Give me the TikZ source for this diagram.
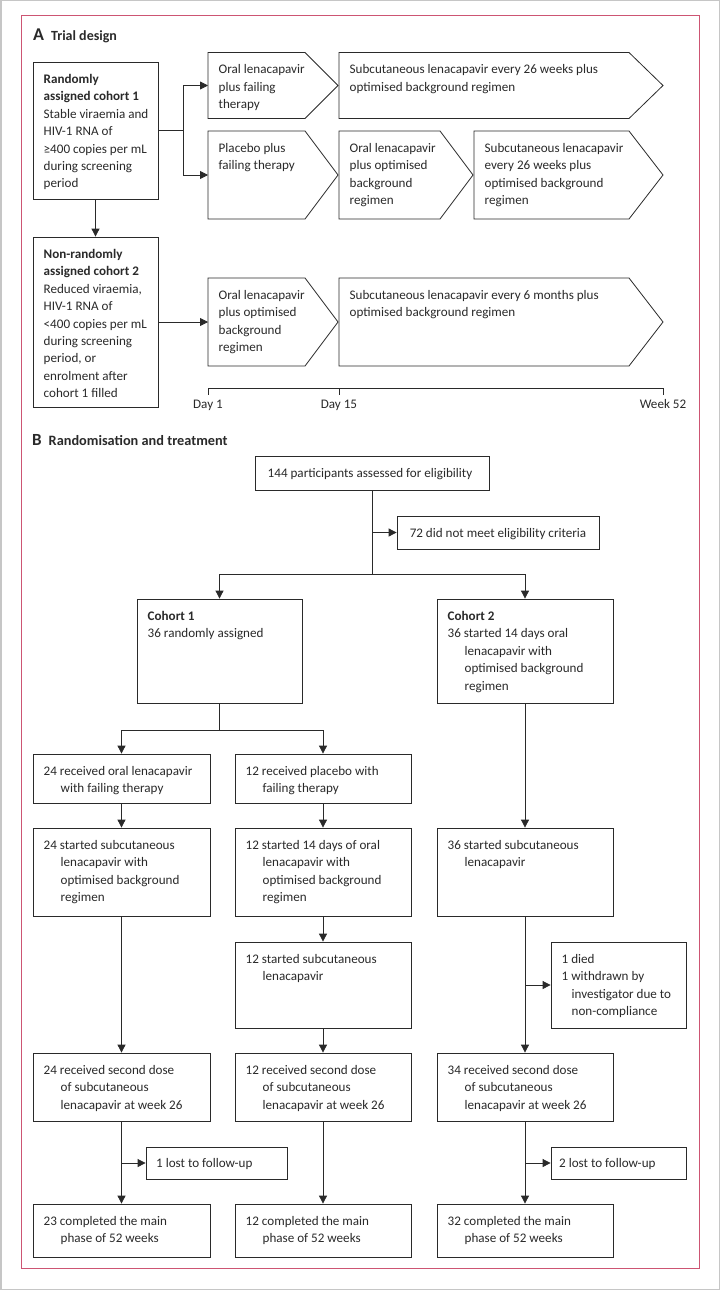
\documentclass[tikz,border=0pt]{standalone}
\usepackage{fontspec}
\setmainfont{Carlito}
\usetikzlibrary{arrows.meta,fit}
\definecolor{ink}{HTML}{2A2A2A}
\definecolor{framec}{RGB}{205,85,115}
\newcommand\tl[1]{\begin{tabular}[t]{@{}l@{}}#1\end{tabular}}
\newcommand\ind{\hspace*{17pt}}
\newcommand\bbox[6]{%
  \node[bx, fit={(#2,#3) (#4,#5)}] (#1) {};
  \node[txt] (#1t) at (#2+10.5,#3+21.5) {\tl{#6}};
}
\newcommand\pent[7]{%
  \draw[bxl] (#2,#3) -- (#4,#3) -- (#5,{(#3+#6)/2}) -- (#4,#6) -- (#2,#6) -- cycle;
  \coordinate (#1) at (#2,{(#3+#6)/2});
  \node[txt] (#1t) at (#2+10.5,#3+21.5) {\tl{#7}};
}
\begin{document}
\begin{tikzpicture}[x=1pt,y=-1pt,
  bx/.style={draw=ink, line width=0.8pt, inner sep=0pt},
  bxl/.style={draw=ink, line width=0.8pt, line join=miter},
  txt/.style={anchor=base west, inner sep=0pt, text=ink, font=\fontsize{13.1}{17.4}\selectfont},
  ln/.style={draw=ink, line width=0.8pt},
  arr/.style={ln, -{Triangle[length=8pt,width=8pt]}}]
\useasboundingbox (0,0) rectangle (720,1290);
\fill[white] (0,0) rectangle (720,1290);
\draw[gray!45, line width=1.5pt] (0.75,0.75) rectangle (719.25,1289.25);
\draw[framec, line width=0.9pt] (21,15) rectangle (699,1268);

% ---------------- A ----------------
\node[anchor=base west, inner sep=0pt, text=ink] (titleA) at (33,41)
  {{\fontsize{18}{18}\selectfont\bfseries A}\hspace{7pt}{\fontsize{14}{14}\selectfont\bfseries Trial design}};

\bbox{c1}{33}{62}{158}{199}{\textbf{Randomly}\\ \textbf{assigned cohort 1}\\ Stable viraemia and\\ HIV-1 RNA of\\ ≥400 copies per mL\\ during screening\\ period}
\bbox{c2}{33}{237}{158}{407}{\textbf{Non-randomly}\\ \textbf{assigned cohort 2}\\ Reduced viraemia,\\ HIV-1 RNA of\\ <400 copies per mL\\ during screening\\ period, or\\ enrolment after\\ cohort 1 filled}

\pent{p1}{208}{52.5}{305}{338}{118.5}{Oral lenacapavir\\ plus failing\\ therapy}
\pent{p2}{208}{131}{305}{338}{219}{Placebo plus\\ failing therapy}
\pent{p3}{339}{52.5}{629}{663}{118.5}{Subcutaneous lenacapavir every 26 weeks plus\\ optimised background regimen}
\pent{p4}{339}{131}{440}{473}{219}{Oral lenacapavir\\ plus optimised\\ background\\ regimen}
\pent{p5}{474}{131}{629}{663}{219}{Subcutaneous lenacapavir\\ every 26 weeks plus\\ optimised background\\ regimen}
\pent{p6}{208}{278}{305}{338}{366}{Oral lenacapavir\\ plus optimised\\ background\\ regimen}
\pent{p7}{339}{278}{629}{663}{366}{Subcutaneous lenacapavir every 6 months plus\\ optimised background regimen}

\coordinate (jA) at (183,130.5);
\draw[ln] (c1.east |- jA) -- (jA);
\draw[arr] (jA |- p1) -- (p1);
\draw[arr] (jA |- p2) -- (p2);
\draw[ln] (jA |- p1) -- (jA |- p2);
\draw[arr] (c1.south) -- (c2.north);
\draw[arr] (c2.east |- p6) -- (p6);

% timeline
\coordinate (t1) at (208,388);
\coordinate (t2) at (339,388);
\coordinate (t3) at (663,388);
\draw[ln] (t1) -- (t3);
\draw[ln] (t1) -- ++(0,7);
\draw[ln] (t2) -- ++(0,7);
\draw[ln] (t3) -- ++(0,7);
\node[txt, anchor=base] (d1) at (208,408) {Day 1};
\node[txt, anchor=base] (d15) at (339,408) {Day 15};
\node[txt, anchor=base] (w52) at (663,408) {Week 52};

% ---------------- B ----------------
\node[anchor=base west, inner sep=0pt, text=ink] (titleB) at (32,445)
  {{\fontsize{17}{17}\selectfont\bfseries B}\hspace{7pt}{\fontsize{14.3}{15}\selectfont\bfseries Randomisation and treatment}};

\node[bx, fit={(255,456) (489,490)}] (elig) {};
\node[txt, anchor=base] at (370,477.5) {144 participants assessed for eligibility};
\node[bx, fit={(397,516) (599,549)}] (excl) {};
\node[txt, anchor=base] at (498,537) {72 did not meet eligibility criteria};

\bbox{k1}{137}{599}{302}{703}{\textbf{Cohort 1}\\ 36 randomly assigned}
\bbox{k2}{437}{599}{613}{703}{\textbf{Cohort 2}\\ 36 started 14 days oral\\ \ind lenacapavir with\\ \ind optimised background\\ \ind regimen}

\bbox{a1}{33}{754}{210}{803}{24 received oral lenacapavir\\ \ind with failing therapy}
\bbox{a2}{235}{754}{411}{803}{12 received placebo with\\ \ind failing therapy}

\bbox{b1}{33}{828}{210}{916}{24 started subcutaneous\\ \ind lenacapavir with\\ \ind optimised background\\ \ind regimen}
\bbox{b2}{235}{828}{411}{916}{12 started 14 days of oral\\ \ind lenacapavir with\\ \ind optimised background\\ \ind regimen}
\bbox{b3}{437}{828}{613}{916}{36 started subcutaneous\\ \ind lenacapavir}

\bbox{c2b}{235}{942}{411}{1028}{12 started subcutaneous\\ \ind lenacapavir}
\bbox{died}{551}{942}{686}{1028}{1 died\\ 1 withdrawn by\\ \hspace*{10pt}investigator due to\\ \hspace*{10pt}non-compliance}

\bbox{s1}{33}{1053}{210}{1121}{24 received second dose\\ \ind of subcutaneous\\ \ind lenacapavir at week 26}
\bbox{s2}{235}{1053}{411}{1121}{12 received second dose\\ \ind of subcutaneous\\ \ind lenacapavir at week 26}
\bbox{s3}{437}{1053}{613}{1121}{34 received second dose\\ \ind of subcutaneous\\ \ind lenacapavir at week 26}

\node[bx, fit={(146,1147) (287,1179)}] (lost1) {};
\node[txt] at (156,1167.5) {1 lost to follow-up};
\node[bx, fit={(551,1147) (686,1179)}] (lost2) {};
\node[txt] at (559,1167.5) {2 lost to follow-up};

\bbox{e1}{33}{1204}{210}{1257}{23 completed the main\\ \ind phase of 52 weeks}
\bbox{e2}{235}{1204}{411}{1257}{12 completed the main\\ \ind phase of 52 weeks}
\bbox{e3}{437}{1204}{613}{1257}{32 completed the main\\ \ind phase of 52 weeks}

% connectors B
\coordinate (jB) at (372,574);
\draw[ln] (elig.south) -- (jB);
\draw[arr] (elig.south |- excl.west) -- (excl.west);
\draw[ln] (k1.north |- jB) -- (k2.north |- jB);
\draw[arr] (k1.north |- jB) -- (k1.north);
\draw[arr] (k2.north |- jB) -- (k2.north);

\coordinate (jC) at (220,730);
\draw[ln] (k1.south) -- (k1.south |- jC);
\draw[ln] (a1.north |- jC) -- (a2.north |- jC);
\draw[arr] (a1.north |- jC) -- (a1.north);
\draw[arr] (a2.north |- jC) -- (a2.north);

\draw[arr] (k2.south) -- (b3.north);
\draw[arr] (a1.south) -- (b1.north);
\draw[arr] (a2.south) -- (b2.north);
\draw[arr] (b1.south) -- (s1.north);
\draw[arr] (b2.south) -- (c2b.north);
\draw[arr] (c2b.south) -- (s2.north);
\draw[arr] (b3.south) -- (s3.north);
\draw[arr] (b3.south |- died.west) -- (died.west);

\draw[arr] (s1.south) -- (e1.north);
\draw[arr] (s2.south) -- (e2.north);
\draw[arr] (s3.south) -- (e3.north);
\draw[arr] (s1.south |- lost1.west) -- (lost1.west);
\draw[arr] (s3.south |- lost2.west) -- (lost2.west);
\end{tikzpicture}
\end{document}
